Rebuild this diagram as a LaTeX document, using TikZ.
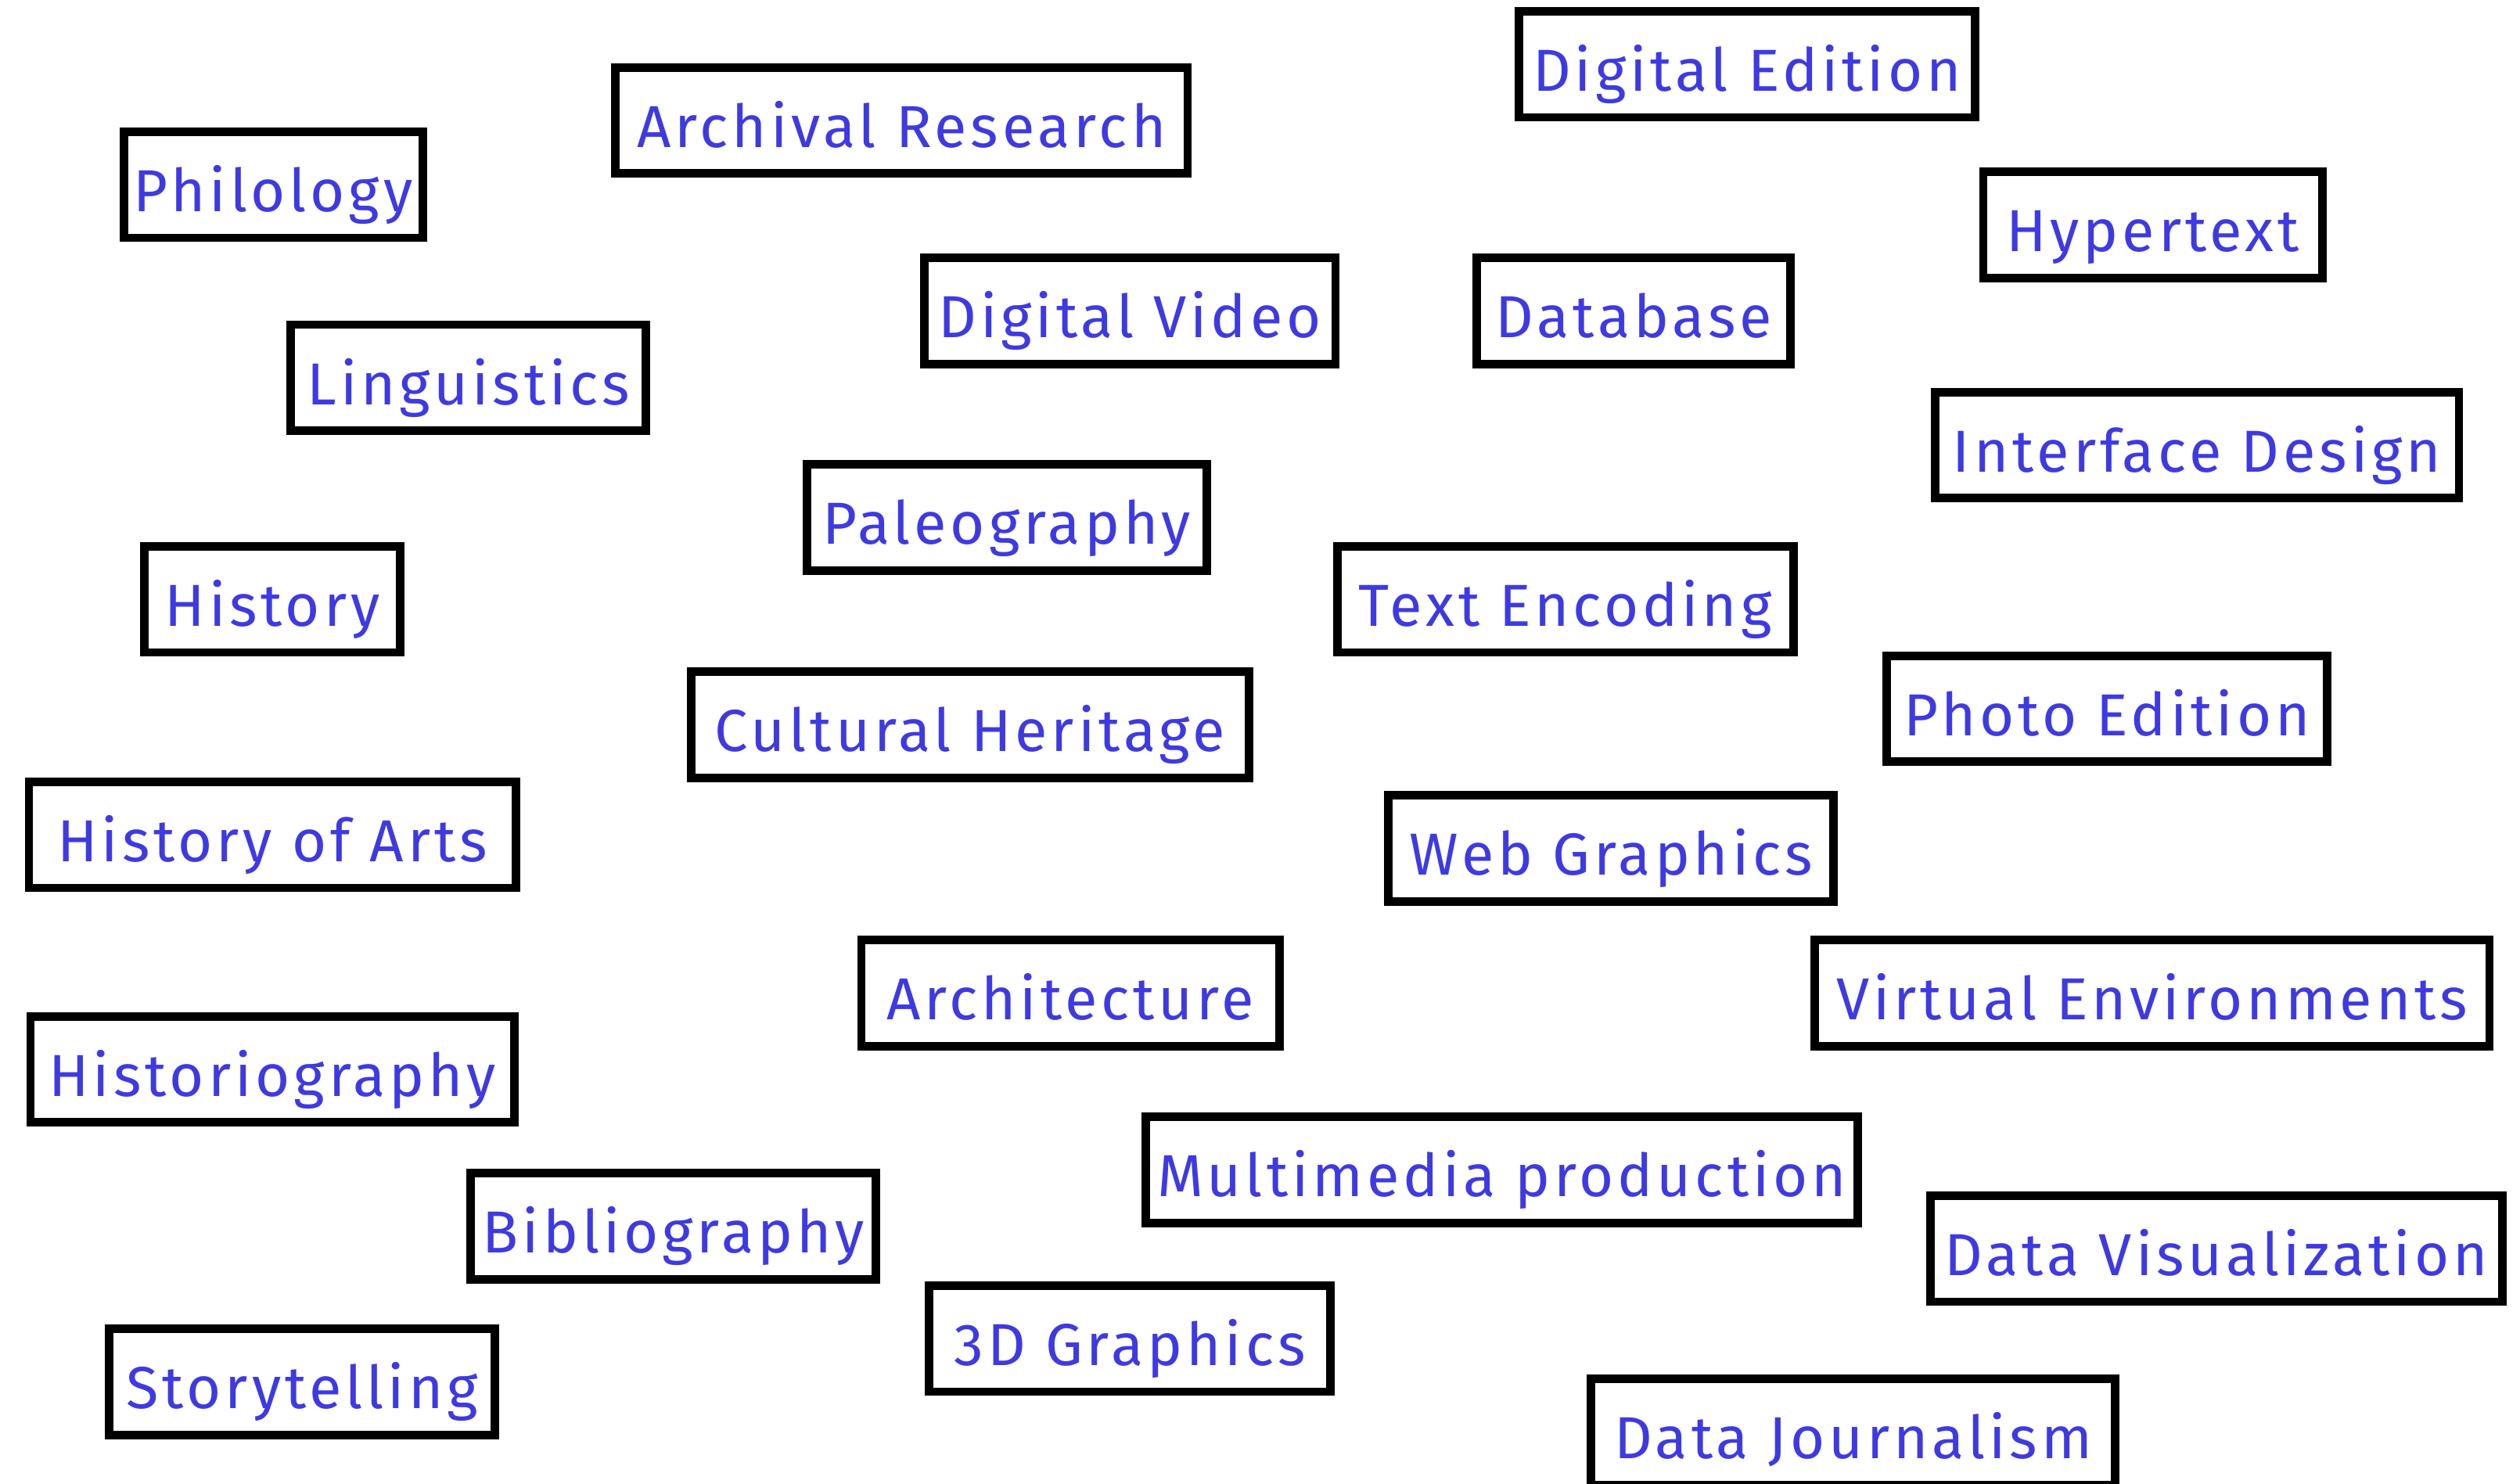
\documentclass[tikz,border=0pt]{standalone}
\usepackage{fontspec}
\setmainfont{Fira Sans}[LetterSpace=6.5]
\usepackage{xcolor}
\usepackage{tikz}

\definecolor{topicblue}{RGB}{62,58,226}

\begin{document}
\begin{tikzpicture}[x=0.02cm, y=-0.02cm,
    topic/.style={draw=black, line width=3pt, fill=white, text=topicblue,
        inner sep=0pt, minimum height=66*0.02cm, text height=19pt, text depth=0pt,
        font=\fontsize{21}{25}\selectfont}]

    %frame
    \useasboundingbox (0,0) rectangle (1568,923);

    %left column
    \node[topic, minimum width=186*0.02cm] (philology) at (170,115) {Philology};
    \node[topic, minimum width=221*0.02cm] (linguistics) at (291.5,235) {Linguistics};
    \node[topic, minimum width=159*0.02cm] (history) at (169.5,373) {History};
    \node[topic, minimum width=303*0.02cm] (historyarts) at (169.5,519.5) {History of Arts};
    \node[topic, minimum width=301*0.02cm] (historiography) at (169.5,665.5) {Historiography};
    \node[topic, minimum width=252*0.02cm] (bibliography) at (419,763) {Bibliography};
    \node[topic, minimum width=240*0.02cm] (storytelling) at (188,860) {Storytelling};

    %middle column
    \node[topic, minimum width=356*0.02cm] (archival) at (561,75) {Archival Research};
    \node[topic, minimum width=256*0.02cm] (video) at (703,193.5) {Digital Video};
    \node[topic, minimum width=249*0.02cm] (paleography) at (626.5,322) {Paleography};
    \node[topic, minimum width=347*0.02cm] (heritage) at (603.5,451) {Cultural Heritage};
    \node[topic, minimum width=260*0.02cm] (architecture) at (666,618) {Architecture};
    \node[topic, minimum width=250*0.02cm] (graphics3d) at (703,833) {3D Graphics};
    \node[topic, minimum width=443*0.02cm] (multimedia) at (934.5,728) {Multimedia production};

    %right middle column
    \node[topic, minimum width=284*0.02cm] (edition) at (1087,40) {Digital Edition};
    \node[topic, minimum width=195*0.02cm] (database) at (1016.5,193.5) {Database};
    \node[topic, minimum width=284*0.02cm] (encoding) at (974,373) {Text Encoding};
    \node[topic, minimum width=277*0.02cm] (webgraphics) at (1002.5,528) {Web Graphics};
    \node[topic, minimum width=326*0.02cm] (journalism) at (1153,891) {Data Journalism};

    %right column
    \node[topic, minimum width=211*0.02cm] (hypertext) at (1339.5,140) {Hypertext};
    \node[topic, minimum width=326*0.02cm] (interface) at (1367,277) {Interface Design};
    \node[topic, minimum width=274*0.02cm] (photo) at (1311,441) {Photo Edition};
    \node[topic, minimum width=420*0.02cm] (virtual) at (1339,618) {Virtual Environments};
    \node[topic, minimum width=356*0.02cm] (dataviz) at (1379,777) {Data Visualization};

\end{tikzpicture}
\end{document}
